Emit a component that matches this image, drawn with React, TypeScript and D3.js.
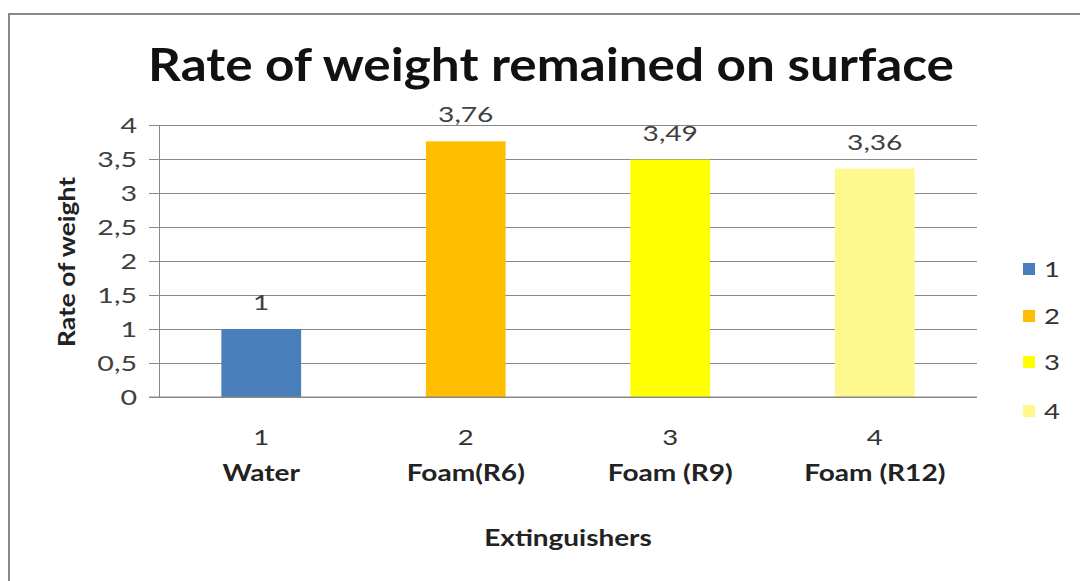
import React, { useEffect, useRef } from "react";
import * as d3 from "d3";

const categories = ["1", "2", "3", "4"];
const names = ["Water", "Foam(R6)", "Foam (R9)", "Foam (R12)"];
const values = [1, 3.76, 3.49, 3.36];
const colors = ["#4A7EBB", "#FFBF00", "#FFFF00", "#FFF88F"];
const yTicks = [0, 0.5, 1, 1.5, 2, 2.5, 3, 3.5, 4];
const legendLabels = ["1", "2", "3", "4"];

const W = 1080;
const H = 581;
const FONT = "Lato, 'Open Sans', sans-serif";

const fmt = (v: number) => String(v).replace(".", ",");

// the original labels are set wider than Lato, so stretch them a bit
const at = (x: number, y: number, sx = 1.25, rot = 0) =>
  `translate(${x},${y})${rot ? ` rotate(${rot})` : ""} scale(${sx},1)`;

export default function App() {
  const ref = useRef<SVGSVGElement | null>(null);

  useEffect(() => {
    const svg = d3.select(ref.current);
    svg.selectAll("*").remove();

    const left = 159, right = 977, top = 125, bottom = 397;

    const x = d3.scaleBand().domain(categories).range([left, right]).paddingInner(0.61).paddingOuter(0.305);
    const y = d3.scaleLinear().domain([0, 4]).range([bottom, top]);
    const cx = (i: number) => x(categories[i])! + x.bandwidth() / 2;

    svg.append("rect").attr("width", W).attr("height", H).attr("fill", "#fff");

    // outer frame
    svg.append("rect")
      .attr("x", 9).attr("y", 14).attr("width", W + 20).attr("height", H + 20)
      .attr("fill", "none").attr("stroke", "#888").attr("stroke-width", 2);

    // title
    svg.append("text")
      .attr("transform", at(551, 81, 1.115))
      .attr("text-anchor", "middle")
      .attr("font-family", FONT).attr("font-weight", "bold").attr("font-size", 46)
      .attr("fill", "#111")
      .text("Rate of weight remained on surface");

    // y axis + gridlines
    const yAxis = d3.axisLeft(y).tickValues(yTicks).tickSize(10).tickFormat((d) => fmt(d as number));
    svg.append("g")
      .attr("transform", `translate(${left},0)`)
      .call(yAxis)
      .call((g) => g.select(".domain").attr("stroke", "#888"))
      .call((g) => g.selectAll(".tick line").attr("stroke", "#888"))
      .call((g) => g.selectAll(".tick line").clone().attr("x1", 0).attr("x2", right - left).attr("stroke", "#888"))
      .call((g) => g.selectAll(".tick text")
        .attr("x", 0)
        .attr("transform", at(-22, 0, 1.3))
        .attr("font-family", FONT).attr("font-size", 22).attr("fill", "#404040"));

    // bars
    svg.append("g")
      .selectAll("rect")
      .data(values)
      .join("rect")
      .attr("x", (_, i) => x(categories[i])!)
      .attr("y", (d) => y(d))
      .attr("width", x.bandwidth())
      .attr("height", (d) => bottom - y(d))
      .attr("fill", (_, i) => colors[i]);

    // data labels
    svg.append("g")
      .selectAll("text")
      .data(values)
      .join("text")
      .attr("transform", (d, i) => at(cx(i), y(d) - 19, 1.28))
      .attr("text-anchor", "middle")
      .attr("font-family", FONT).attr("font-size", 22).attr("fill", "#404040")
      .text((d) => fmt(d));

    // x axis line
    svg.append("line")
      .attr("x1", left - 10).attr("x2", right).attr("y1", bottom).attr("y2", bottom)
      .attr("stroke", "#888");

    // category labels
    const cats = svg.append("g");
    cats.selectAll("text.num")
      .data(categories)
      .join("text")
      .attr("class", "num")
      .attr("transform", (_, i) => at(cx(i), 445, 1.25))
      .attr("text-anchor", "middle")
      .attr("font-family", FONT).attr("font-size", 22).attr("fill", "#333")
      .text((d) => d);
    cats.selectAll("text.name")
      .data(names)
      .join("text")
      .attr("class", "name")
      .attr("transform", (_, i) => at(cx(i), 481, 1.22))
      .attr("text-anchor", "middle")
      .attr("font-family", FONT).attr("font-weight", "bold").attr("font-size", 23).attr("fill", "#222")
      .text((d) => d);

    // axis titles
    svg.append("text")
      .attr("transform", at(568, 546, 1.27))
      .attr("text-anchor", "middle")
      .attr("font-family", FONT).attr("font-weight", "bold").attr("font-size", 22).attr("fill", "#222")
      .text("Extinguishers");
    svg.append("text")
      .attr("transform", at(75, 262, 1.2, -90))
      .attr("text-anchor", "middle")
      .attr("font-family", FONT).attr("font-weight", "bold").attr("font-size", 22).attr("fill", "#222")
      .text("Rate of weight");

    // legend
    const legendY = [269, 316, 362, 411];
    const lg = svg.append("g");
    lg.selectAll("rect")
      .data(legendLabels)
      .join("rect")
      .attr("x", 1023).attr("y", (_, i) => legendY[i] - 6)
      .attr("width", 12).attr("height", 12)
      .attr("fill", (_, i) => colors[i]);
    lg.selectAll("text")
      .data(legendLabels)
      .join("text")
      .attr("transform", (_, i) => at(1044, legendY[i] + 8, 1.25))
      .attr("font-family", FONT).attr("font-size", 22).attr("fill", "#333")
      .text((d) => d);
  }, []);

  return (
    <div style={{ position: "absolute", left: 0, top: 0 }}>
      <svg ref={ref} width={W} height={H} style={{ display: "block" }} />
    </div>
  );
}
